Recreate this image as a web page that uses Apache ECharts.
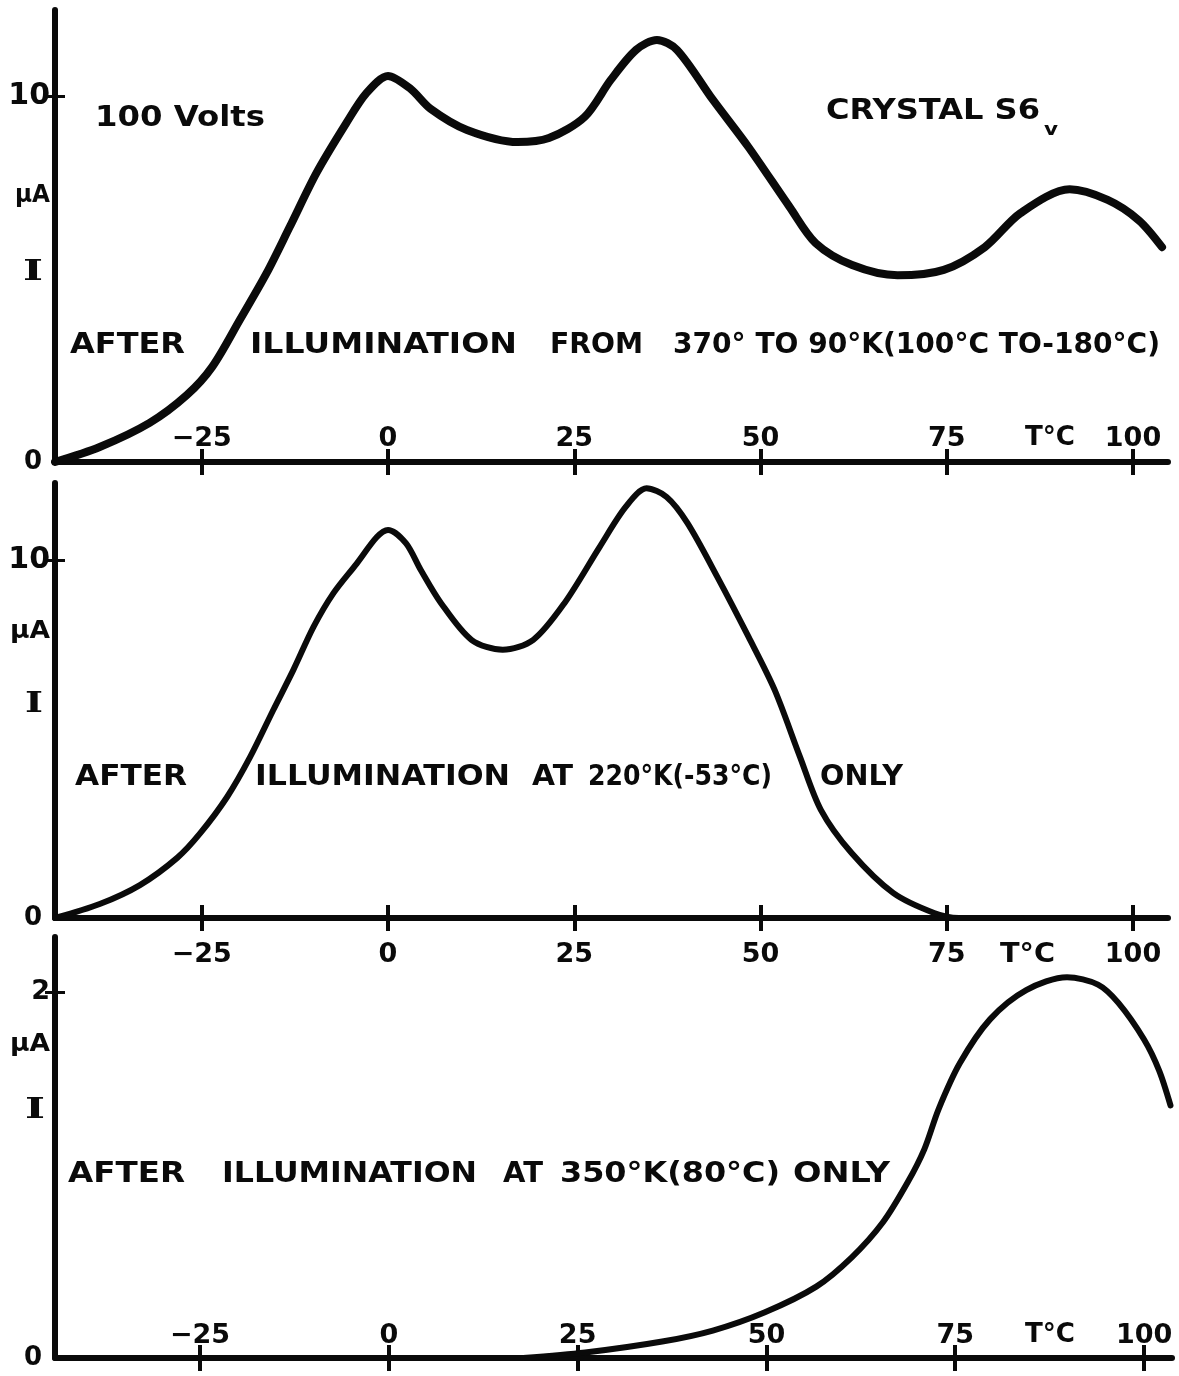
<!DOCTYPE html>
<html>
<head>
<meta charset="utf-8">
<script src="https://cdn.jsdelivr.net/npm/echarts@6/dist/echarts.min.js"></script>
<style>html,body{margin:0;padding:0;background:#fff}#c{width:1179px;height:1376px}</style>
</head>
<body>
<div id="c"></div>
<script>
// ---- data ----
const xTicks = [-25, 0, 25, 50, 75, 100];
const yTicksTop = [0, 10];
const yTicksBottom = [0, 2];

// Panel 1: after illumination from 370° to 90°K
const temp1 = [-44.7, -38.7, -32, -27, -23.6, -19.9, -16.3, -13.2, -9.6, -5.6, -2.9, 0, 3, 5.7, 10.6, 17.4, 21.6, 26.4, 29.9, 33.3, 36.1, 38.8, 43.6, 48.4, 53.9, 57.4, 62.3, 68.4, 74.6, 80.1, 84.9, 91.5, 96.6, 100.8, 103.9];
const current1 = [0, 0.41, 1.07, 1.83, 2.6, 3.88, 5.16, 6.42, 7.9, 9.26, 10.08, 10.55, 10.2, 9.65, 9.07, 8.74, 8.85, 9.43, 10.44, 11.26, 11.53, 11.26, 9.9, 8.6, 6.97, 5.98, 5.38, 5.1, 5.25, 5.87, 6.8, 7.45, 7.16, 6.6, 5.87];

// Panel 2: after illumination at 220°K only
const temp2 = [-44.7, -38.7, -33.3, -28.3, -25.2, -21.6, -18.5, -15.4, -12.7, -10, -7.3, -4.2, -1.5, 0, 2.4, 4.4, 7.1, 11.2, 15.4, 19.5, 23.7, 28.4, 31.9, 34.7, 37.4, 40.2, 44.2, 48.4, 51.9, 55.3, 58.1, 62.2, 67.8, 73.3, 76.6, 85];
const current2 = [0, 0.39, 0.92, 1.68, 2.37, 3.38, 4.5, 5.81, 6.93, 8.13, 9.08, 9.9, 10.64, 10.84, 10.47, 9.72, 8.8, 7.77, 7.49, 7.77, 8.8, 10.36, 11.48, 12.0, 11.76, 11.03, 9.53, 7.85, 6.37, 4.5, 3.02, 1.82, 0.7, 0.14, 0, 0];

// Panel 3: after illumination at 350°K only
const temp3 = [17.8, 26, 36.2, 42.9, 49.8, 56.6, 61.3, 65.4, 68.7, 70.9, 72.8, 75.6, 79.6, 84.4, 89.8, 93.9, 96.6, 100, 102, 103.5];
const current3 = [0, 0.03, 0.09, 0.15, 0.25, 0.39, 0.55, 0.74, 0.96, 1.14, 1.36, 1.61, 1.85, 2.01, 2.08, 2.04, 1.94, 1.74, 1.57, 1.38];

const panels = [
  {grid: {left: 55, top: 10, width: 1113, height: 452}, xMin: -44.7, xMax: 104.7, yMax: 12.35, yTicks: yTicksTop, inside: true, margin: 10, lw: 8},
  {grid: {left: 55, top: 483, width: 1113, height: 435}, xMin: -44.7, xMax: 104.7, yMax: 12.15, yTicks: yTicksTop, inside: false, margin: 23, lw: 6},
  {grid: {left: 55, top: 937, width: 1117, height: 421}, xMin: -44.2, xMax: 103.7, yMax: 2.3, yTicks: yTicksBottom, inside: true, margin: 9, lw: 6}
];
const seriesData = [[temp1, current1], [temp2, current2], [temp3, current3]];

const FONT = '"DejaVu Sans"';
const INK = '#0a0a0a';

const grids = [], xAxes = [], yAxes = [], series = [];
panels.forEach((p, k) => {
  grids.push(Object.assign({containLabel: false}, p.grid));
  const xBase = {
    type: 'value', gridIndex: k, min: p.xMin, max: p.xMax, position: 'bottom',
    splitLine: {show: false}
  };
  xAxes.push(Object.assign({}, xBase, {
    axisLine: {show: true, onZero: false, lineStyle: {color: INK, width: 6, cap: 'round'}},
    axisTick: {show: true, customValues: xTicks, inside: false, length: 13, lineStyle: {color: INK, width: 4}},
    axisLabel: {
      show: true, customValues: xTicks, inside: p.inside, margin: p.margin,
      color: INK, fontFamily: FONT, fontWeight: 'bold', fontSize: 27,
      formatter: v => (v < 0 ? '\u2212' + Math.abs(v) : String(v))
    }
  }));
  xAxes.push(Object.assign({}, xBase, {
    axisLine: {show: false, onZero: false},
    axisTick: {show: true, customValues: xTicks, inside: true, length: 13, lineStyle: {color: INK, width: 4}},
    axisLabel: {show: false}
  }));
  const yBase = {type: 'value', gridIndex: k, min: 0, max: p.yMax, position: 'left', splitLine: {show: false}};
  const tickVal = p.yTicks.filter(v => v !== 0);
  yAxes.push(Object.assign({}, yBase, {
    axisLine: {show: true, onZero: false, lineStyle: {color: INK, width: 6, cap: 'round'}},
    axisTick: {show: true, customValues: tickVal, inside: false, length: 10, lineStyle: {color: INK, width: 3}},
    axisLabel: {
      show: true, customValues: p.yTicks, margin: 5, color: INK, fontFamily: FONT, fontWeight: 'bold',
      formatter: v => (v === 0 ? '{z|0}' : '{n|' + v + '}'),
      rich: {
        z: {fontSize: 26, fontFamily: FONT, fontWeight: 'bold', color: INK, padding: [0, 8, 0, 0]},
        n: {fontSize: k === 2 ? 27 : 30, fontFamily: FONT, fontWeight: 'bold', color: INK}
      }
    }
  }));
  yAxes.push(Object.assign({}, yBase, {
    axisLine: {show: false, onZero: false},
    axisTick: {show: true, customValues: tickVal, inside: true, length: 10, lineStyle: {color: INK, width: 3}},
    axisLabel: {show: false}
  }));
  const [ts, is] = seriesData[k];
  series.push({
    type: 'line', xAxisIndex: 2 * k, yAxisIndex: 2 * k,
    data: ts.map((t, i) => [t, is[i]]),
    smooth: 0.3, symbol: 'none', clip: false, z: 5,
    lineStyle: {color: INK, width: p.lw, cap: 'round', join: 'round'}
  });
});

// ---- text annotations, stretched to the widths of the hand lettering ----
const mctx = document.createElement('canvas').getContext('2d');
function fit(str, x0, x1, yc, size, family, weight) {
  const font = (weight || 'bold') + ' ' + size + 'px ' + (family || FONT);
  mctx.font = font;
  const w = mctx.measureText(str).width;
  return {
    type: 'text', x: x0, y: yc, scaleX: (x1 - x0) / w, z: 20,
    style: {text: str, font: font, fill: INK, textAlign: 'left', textVerticalAlign: 'middle', align: 'left', verticalAlign: 'middle'}
  };
}
const SERIF = '"DejaVu Serif"';
const graphics = [
  fit('100 Volts', 95, 265, 118, 29),
  fit('CRYSTAL S6', 826, 1040, 112, 28),
  fit('v', 1044, 1058, 130, 18),
  fit('AFTER', 70, 185, 345, 29),
  fit('ILLUMINATION', 250, 517, 345, 29),
  fit('FROM', 550, 643, 345, 29),
  fit('370\u00b0 TO 90\u00b0K(100\u00b0C TO-180\u00b0C)', 673, 1160, 345, 29),

  fit('AFTER', 75, 187, 777, 29),
  fit('ILLUMINATION', 255, 510, 777, 29),
  fit('AT', 532, 573, 777, 29),
  fit('220\u00b0K(-53\u00b0C)', 588, 772, 777, 29),
  fit('ONLY', 820, 903, 777, 29),

  fit('AFTER', 68, 185, 1174, 29),
  fit('ILLUMINATION', 222, 477, 1174, 29),
  fit('AT', 503, 543, 1174, 29),
  fit('350\u00b0K(80\u00b0C)', 560, 780, 1174, 29),
  fit('ONLY', 793, 890, 1174, 29),

  fit('\u03bcA', 15, 50, 196, 24),
  fit('\u03bcA', 10, 50, 632, 24),
  fit('\u03bcA', 10, 50, 1045, 24),
  fit('I', 23, 43, 273, 28, SERIF),
  fit('I', 25, 43, 705, 28, SERIF),
  fit('I', 25, 45, 1111, 28, SERIF),

  fit('T\u00b0C', 1025, 1075, 438, 27),
  fit('T\u00b0C', 1000, 1055, 955, 27),
  fit('T\u00b0C', 1025, 1075, 1335, 27)
];

const chart = echarts.init(document.getElementById('c'), null, {renderer: 'canvas'});
chart.setOption({
  backgroundColor: '#ffffff',
  animation: false,
  grid: grids,
  xAxis: xAxes,
  yAxis: yAxes,
  series: series,
  graphic: {elements: graphics}
});
</script>
</body>
</html>
